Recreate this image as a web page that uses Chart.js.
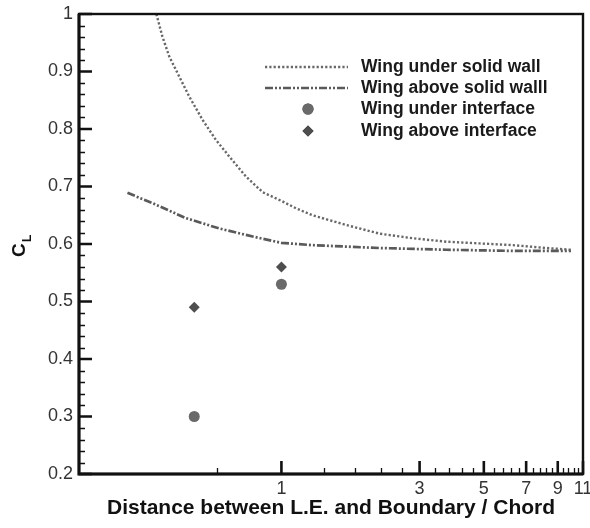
<!DOCTYPE html>
<html>
<head>
<meta charset="utf-8">
<script src="https://cdn.jsdelivr.net/npm/chart.js@4/dist/chart.umd.min.js"></script>
<style>
  html, body { margin: 0; padding: 0; background: #fff; }
  #wrap { width: 590px; height: 528px; }
</style>
</head>
<body>
<div id="wrap"><canvas id="clChart" width="590" height="528"></canvas></div>
<script>
// lift coefficient vs. distance from the boundary
const underWallX = [0.37, 0.388, 0.41, 0.444, 0.481, 0.534, 0.594, 0.661, 0.755, 0.862, 1.0, 1.124, 1.28, 1.675, 2.18, 2.84, 3.71, 4.84, 6.3, 8.24, 10];
const underWallY = [1.0, 0.961, 0.926, 0.891, 0.856, 0.816, 0.781, 0.752, 0.717, 0.690, 0.675, 0.662, 0.650, 0.633, 0.618, 0.610, 0.604, 0.601, 0.598, 0.593, 0.590];

const aboveWallX = [0.294, 0.359, 0.468, 0.61, 0.796, 1.0, 1.28, 2.18, 3.71, 6.3, 10];
const aboveWallY = [0.689, 0.671, 0.645, 0.627, 0.613, 0.602, 0.598, 0.593, 0.590, 0.588, 0.588];

const interfaceX = [0.5, 1];
const underInterfaceY = [0.30, 0.53];
const aboveInterfaceY = [0.49, 0.56];

const xTickLabels = [1, 3, 5, 7, 9, 11];
const xMinorTicks = [0.6, 1.4, 1.8, 2.2, 2.6, 3.4, 3.8, 4.2, 4.6, 5.4, 5.8, 6.2, 6.6, 7.4, 7.8, 8.2, 8.6, 9.4, 9.8, 10.2, 10.6];
const yTickLabels = [0.2, 0.3, 0.4, 0.5, 0.6, 0.7, 0.8, 0.9, 1];

const FONT = '"Liberation Sans", Arial, sans-serif';
const toPoints = (xs, ys) => xs.map((x, i) => ({ x: x, y: ys[i] }));

// ticks pointing into the plot + black frame
const frameTicks = {
  id: 'frameTicks',
  afterDatasetsDraw(chart) {
    const ctx = chart.ctx;
    const a = chart.chartArea;
    const xs = chart.scales.x, ys = chart.scales.y;
    ctx.save();
    ctx.strokeStyle = '#111';
    ctx.lineWidth = 1.3;
    ctx.beginPath();
    xMinorTicks.forEach(v => {
      const px = Math.round(xs.getPixelForValue(v)) + 0.5;
      ctx.moveTo(px, a.bottom); ctx.lineTo(px, a.bottom - 6);
    });
    for (let i = 0; i <= 40; i++) {
      if (i % 5 === 0) continue;
      const py = Math.round(ys.getPixelForValue(0.2 + i * 0.02)) + 0.5;
      ctx.moveTo(a.left, py); ctx.lineTo(a.left + 6, py);
    }
    ctx.stroke();
    ctx.lineWidth = 2.6;
    ctx.beginPath();
    xTickLabels.forEach(v => {
      const px = xs.getPixelForValue(v);
      ctx.moveTo(px, a.bottom); ctx.lineTo(px, a.bottom - 13);
    });
    yTickLabels.forEach(v => {
      const py = ys.getPixelForValue(v);
      ctx.moveTo(a.left, py); ctx.lineTo(a.left + 13, py);
    });
    ctx.stroke();
    ctx.lineWidth = 2.4;
    ctx.strokeRect(a.left, a.top, a.right - a.left, a.bottom - a.top);
    // left and bottom axis lines are a bit heavier
    ctx.lineWidth = 3;
    ctx.beginPath();
    ctx.moveTo(a.left, a.top); ctx.lineTo(a.left, a.bottom); ctx.lineTo(a.right, a.bottom);
    ctx.stroke();
    ctx.restore();
  }
};

// legend box in the upper right of the plot
const innerLegend = {
  id: 'innerLegend',
  afterDraw(chart) {
    const ctx = chart.ctx;
    const x0 = 265, x1 = 348, tx = 361;
    const rows = [67, 88, 109, 131];
    ctx.save();
    chart.data.datasets.forEach((ds, i) => {
      const y = rows[i];
      if (ds.showLine) {
        ctx.strokeStyle = ds.borderColor;
        ctx.lineWidth = ds.borderWidth;
        ctx.setLineDash(ds.borderDash);
        ctx.beginPath();
        ctx.moveTo(x0, y); ctx.lineTo(x1, y);
        ctx.stroke();
        ctx.setLineDash([]);
      } else {
        Chart.helpers.drawPoint(ctx, {
          pointStyle: ds.pointStyle, radius: ds.pointRadius, borderWidth: 0
        }, 308, y);
        ctx.fillStyle = ds.backgroundColor;
        ctx.fill();
      }
      ctx.fillStyle = '#1a1a1a';
      ctx.font = 'bold 17.5px ' + FONT;
      ctx.textBaseline = 'middle';
      ctx.fillText(ds.label, tx, y);
    });
    ctx.restore();
  }
};

// C_L axis title with subscript
const clTitle = {
  id: 'clTitle',
  afterDraw(chart) {
    const ctx = chart.ctx;
    ctx.save();
    ctx.translate(25, 250);
    ctx.rotate(-Math.PI / 2);
    ctx.fillStyle = '#111';
    ctx.textBaseline = 'alphabetic';
    ctx.font = 'bold 19px ' + FONT;
    ctx.fillText('C', -7, 0);
    ctx.font = 'bold 12px ' + FONT;
    ctx.fillText('L', 8, 6);
    ctx.restore();
  }
};

new Chart(document.getElementById('clChart'), {
  type: 'scatter',
  data: {
    datasets: [
      {
        label: 'Wing under solid wall',
        data: toPoints(underWallX, underWallY),
        showLine: true,
        borderColor: '#686868',
        borderWidth: 2.4,
        borderDash: [2.2, 2.1],
        pointRadius: 0,
        fill: false,
        tension: 0
      },
      {
        label: 'Wing above solid walll',
        data: toPoints(aboveWallX, aboveWallY),
        showLine: true,
        borderColor: '#5a5a5a',
        borderWidth: 2.7,
        borderDash: [8, 2, 2, 2, 2, 2],
        pointRadius: 0,
        fill: false,
        tension: 0
      },
      {
        label: 'Wing under interface',
        data: toPoints(interfaceX, underInterfaceY),
        showLine: false,
        pointStyle: 'circle',
        pointRadius: 5.5,
        backgroundColor: '#6a6a6a',
        borderWidth: 0
      },
      {
        label: 'Wing above interface',
        data: toPoints(interfaceX, aboveInterfaceY),
        showLine: false,
        pointStyle: 'rectRot',
        pointRadius: 5.5,
        backgroundColor: '#4e4e4e',
        borderWidth: 0
      }
    ]
  },
  options: {
    responsive: false,
    animation: false,
    layout: { padding: { top: 14, right: 7, bottom: 0, left: 0 } },
    plugins: {
      legend: { display: false },
      tooltip: { enabled: false }
    },
    scales: {
      x: {
        type: 'logarithmic',
        min: 0.2,
        max: 11,
        grid: { display: false, drawTicks: false },
        border: { display: false },
        afterBuildTicks: s => { s.ticks = xTickLabels.map(v => ({ value: v })); },
        afterFit: s => { s.height = 54; s.paddingLeft = 0; s.paddingRight = 0; },
        ticks: {
          autoSkip: false,
          maxRotation: 0,
          padding: 4,
          color: '#333',
          font: { family: FONT, size: 18 },
          callback: v => String(v)
        },
        title: {
          display: true,
          text: 'Distance between L.E. and Boundary / Chord',
          color: '#111',
          font: { family: FONT, size: 21, weight: 'bold' },
          padding: { top: 0, bottom: 7 }
        }
      },
      y: {
        min: 0.2,
        max: 1,
        grid: { display: false, drawTicks: false },
        border: { display: false },
        afterBuildTicks: s => { s.ticks = yTickLabels.map(v => ({ value: v })); },
        afterFit: s => { s.width = 79; s.paddingTop = 0; s.paddingBottom = 0; },
        ticks: {
          padding: 6,
          color: '#333',
          font: { family: FONT, size: 18 },
          callback: v => (v === 1 ? '1' : v.toFixed(1))
        }
      }
    }
  },
  plugins: [frameTicks, innerLegend, clTitle]
});
</script>
</body>
</html>
